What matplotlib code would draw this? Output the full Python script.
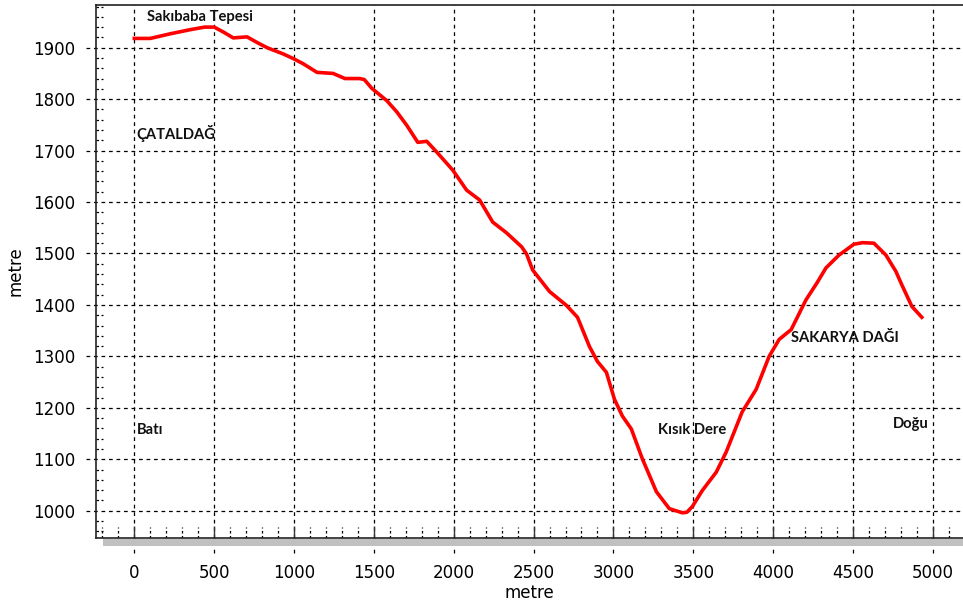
import matplotlib
matplotlib.use('Agg')
import matplotlib.pyplot as plt
from matplotlib.patches import Rectangle

plt.rcParams['font.family'] = ['DejaVu Sans']

# profile: distance along section (m) and elevation (m)
dist = [0, 100, 225, 350, 440, 500, 560, 619, 706, 769, 831, 931, 994, 1056,
        1144, 1244, 1319, 1412, 1440, 1487, 1581, 1644, 1706, 1775, 1831, 1894,
        1994, 2081, 2162, 2244, 2331, 2425, 2456, 2494, 2600, 2706, 2775, 2850,
        2900, 2956, 3006, 3056, 3112, 3181, 3269, 3350, 3431, 3460, 3494, 3556,
        3644, 3706, 3806, 3894, 3975, 4038, 4113, 4206, 4275, 4331, 4413, 4506,
        4560, 4631, 4706, 4769, 4806, 4869, 4931]
elev = [1918, 1918, 1927, 1935, 1940, 1940, 1930, 1919, 1921, 1910, 1900, 1888,
        1879, 1869, 1852, 1850, 1840, 1840, 1838, 1821, 1797, 1775, 1749, 1716,
        1718, 1697, 1662, 1623, 1604, 1561, 1540, 1513, 1499, 1468, 1426, 1399,
        1376, 1319, 1290, 1269, 1217, 1184, 1159, 1101, 1037, 1004, 996, 997,
        1008, 1039, 1075, 1114, 1192, 1236, 1300, 1333, 1352, 1410, 1443, 1472,
        1497, 1518, 1521, 1520, 1497, 1465, 1439, 1397, 1376]

x_ticks = [0, 500, 1000, 1500, 2000, 2500, 3000, 3500, 4000, 4500, 5000]
y_ticks = [1000, 1100, 1200, 1300, 1400, 1500, 1600, 1700, 1800, 1900]

place_names = ['Sakıbaba Tepesi', 'ÇATALDAĞ', 'Batı', 'Kısık Dere', 'SAKARYA DAĞI', 'Doğu']
place_x = [80, 11, 15, 3279, 4110, 4749]
place_y = [1960, 1734, 1156, 1157, 1335, 1168]

fig = plt.figure(figsize=(9.63, 6.07), dpi=100)
ax = fig.add_axes([0.0997, 0.1137, 0.9003, 0.8781])
ax.set_xlim(-240, 5189)
ax.set_ylim(947, 1983)

dash = (0, (3, 3))
# grid, running a little past the axes on the left and bottom
for y in y_ticks:
    ax.plot([-0.011, 1], [y, y], transform=ax.get_yaxis_transform(),
            color='black', lw=0.9, ls=dash, clip_on=False, zorder=1)
for x in x_ticks:
    ax.plot([x, x], [-0.028, 1], transform=ax.get_xaxis_transform(),
            color='black', lw=0.9, ls=dash, clip_on=False, zorder=1)

# minor ticks drawn as short dotted marks
for y in range(960, 1981, 20):
    if y % 100 == 0:
        continue
    ax.plot([0, 0.008], [y, y], transform=ax.get_yaxis_transform(),
            color='black', lw=0.9, ls=(0, (2, 2)), zorder=1)
for x in range(-200, 5190, 100):
    if x % 500 == 0:
        continue
    ax.plot([x, x], [0, 0.02], transform=ax.get_xaxis_transform(),
            color='black', lw=0.9, ls=(0, (2, 2)), zorder=1)

ax.plot(dist, elev, color='red', lw=2.6, zorder=3, solid_joinstyle='round')

for name, tx, ty in zip(place_names, place_x, place_y):
    ax.text(tx, ty, name, fontsize=10.6, fontweight='bold', family=['Lato', 'DejaVu Sans'],
            color='#111111', ha='left', va='center', zorder=4)

ax.set_xticks(x_ticks)
ax.set_yticks(y_ticks)
ax.tick_params(axis='x', direction='in', length=9, width=1, color='#333333',
               labelsize=12, pad=19)
ax.tick_params(axis='y', length=0, labelsize=12, pad=15)
ax.set_xlabel('metre', fontsize=12, labelpad=1)
ax.set_ylabel('metre', fontsize=12, labelpad=6)

ax.spines['right'].set_visible(False)
for s in ['left', 'top', 'bottom']:
    ax.spines[s].set_color('#222222')
    ax.spines[s].set_linewidth(1.2)

# grey shadow under the bottom axis
fig.patches.append(Rectangle((103 / 963, 1 - 546 / 607), 1 - 103 / 963, 7 / 607,
                             transform=fig.transFigure, facecolor='#c0c0c0',
                             edgecolor='none', zorder=0))

fig.savefig('out.png', dpi=100)
